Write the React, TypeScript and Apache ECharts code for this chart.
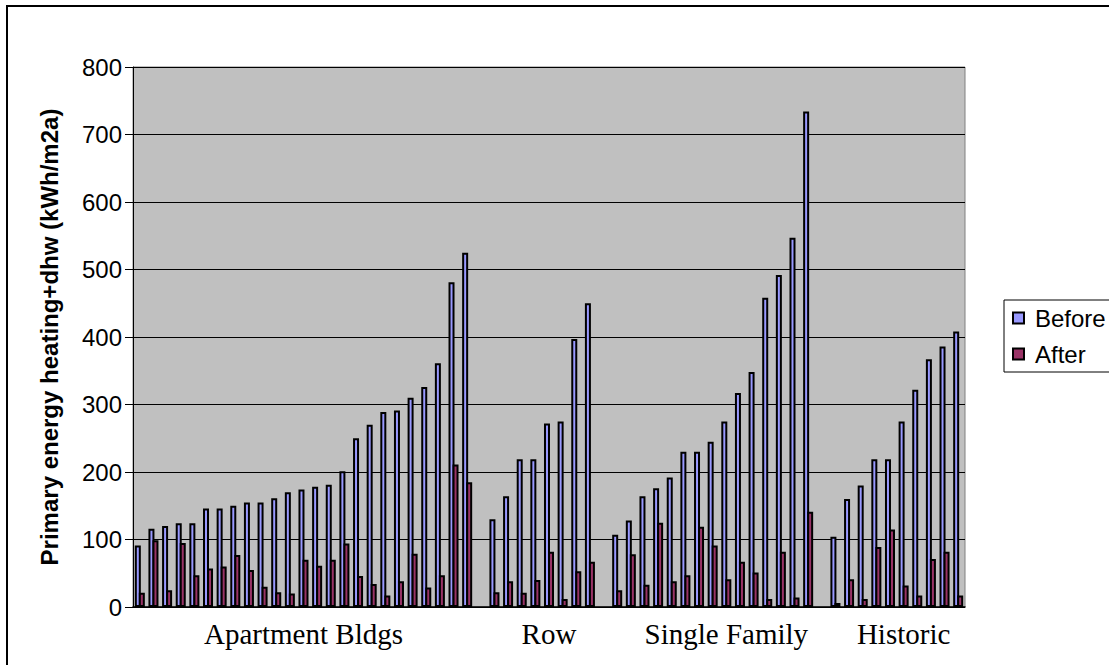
import React, { useEffect, useRef } from "react";
import * as echarts from "echarts";

// Building groups (category labels) and their values (kWh/m2a)
const groupNames = ["Apartment Bldgs", "Row", "Single Family", "Historic"];

const apartmentBefore = [91, 116, 120, 124, 124, 146, 146, 150, 155, 155, 161, 170, 174, 178, 181, 201, 250, 270, 289, 291, 310, 326, 361, 481, 525];
const apartmentAfter = [21, 99, 25, 95, 47, 57, 60, 77, 55, 30, 22, 20, 70, 61, 70, 94, 46, 34, 17, 38, 79, 29, 47, 211, 185];

const rowBefore = [130, 164, 219, 219, 272, 275, 397, 450];
const rowAfter = [22, 38, 21, 40, 82, 12, 53, 67];

const singleFamilyBefore = [107, 128, 164, 176, 192, 230, 230, 245, 275, 317, 348, 458, 492, 547, 734];
const singleFamilyAfter = [25, 78, 33, 125, 38, 47, 119, 91, 41, 67, 51, 12, 82, 14, 141];

const historicBefore = [104, 160, 180, 219, 219, 275, 322, 367, 386, 408];
const historicAfter = [6, 41, 12, 89, 115, 32, 17, 71, 82, 17];

const yTicks = [0, 100, 200, 300, 400, 500, 600, 700, 800];

// Group label category index (position of the group caption under the axis)
const groupLabelIndex = [12, 30, 43, 56];

export default function App() {
  const ref = useRef<HTMLDivElement>(null);

  useEffect(() => {
    if (!ref.current) return;
    const chart = echarts.init(ref.current, null, { renderer: "svg" });

    const groupsBefore = [apartmentBefore, rowBefore, singleFamilyBefore, historicBefore];
    const groupsAfter = [apartmentAfter, rowAfter, singleFamilyAfter, historicAfter];
    const categories: string[] = [];
    const before: (number | null)[] = [];
    const after: (number | null)[] = [];
    groupsBefore.forEach((g, gi) => {
      if (gi > 0) {
        categories.push("gap" + gi);
        before.push(null);
        after.push(null);
      }
      g.forEach((v, i) => {
        categories.push(groupNames[gi] + " " + (i + 1));
        before.push(v);
        after.push(groupsAfter[gi][i]);
      });
    });
    const labelMap: Record<number, string> = {};
    groupLabelIndex.forEach((idx, gi) => (labelMap[idx] = groupNames[gi]));

    const sans = "Liberation Sans, Arial, sans-serif";

    chart.setOption({
      animation: false,
      backgroundColor: "#ffffff",
      graphic: [
        {
          type: "rect",
          z: -10,
          shape: { x: 7, y: 6, width: 1200, height: 800 },
          style: { fill: "none", stroke: "#000", lineWidth: 2 },
        },
      ],
      grid: {
        left: 133,
        top: 67,
        width: 832,
        height: 540,
        show: true,
        backgroundColor: "#C0C0C0",
        borderColor: "#808080",
        borderWidth: 1,
      },
      legend: {
        orient: "vertical",
        left: 1004,
        top: 300,
        data: ["Before", "After"],
        icon: "rect",
        itemWidth: 11,
        itemHeight: 11,
        itemGap: 12,
        padding: [6, 30, 6, 8],
        borderColor: "#000",
        borderWidth: 1,
        backgroundColor: "#fff",
        textStyle: { fontFamily: sans, fontSize: 24, color: "#000", padding: [0, 0, 0, 6] },
      },
      xAxis: {
        type: "category",
        data: categories,
        axisTick: { show: false },
        axisLine: { lineStyle: { color: "#000", width: 1.5 } },
        axisLabel: {
          interval: 0,
          formatter: (_v: string, i: number) => labelMap[i] || "",
          fontFamily: "Liberation Serif, Times New Roman, serif",
          fontSize: 29,
          color: "#000",
          margin: 12,
        },
        splitLine: { show: false },
      },
      yAxis: {
        type: "value",
        min: yTicks[0],
        max: yTicks[yTicks.length - 1],
        interval: 100,
        name: "Primary energy heating+dhw (kWh/m2a)",
        nameLocation: "middle",
        nameGap: 72,
        nameTextStyle: { fontFamily: sans, fontWeight: "bold", fontSize: 24, color: "#000" },
        axisLine: { show: true, lineStyle: { color: "#000", width: 1 } },
        axisTick: { show: true, length: 8, lineStyle: { color: "#000" } },
        axisLabel: { fontFamily: sans, fontSize: 24, color: "#000", margin: 11 },
        splitLine: { lineStyle: { color: "#000", width: 1 } },
      },
      series: [
        {
          name: "Before",
          type: "bar",
          data: before,
          barWidth: 6,
          barGap: "-33%",
          itemStyle: { color: "#9999FF", borderColor: "#000", borderWidth: 2 },
        },
        {
          name: "After",
          type: "bar",
          data: after,
          barWidth: 6,
          itemStyle: { color: "#993366", borderColor: "#000", borderWidth: 2 },
        },
      ],
    });

    return () => chart.dispose();
  }, []);

  return (
    <div
      ref={ref}
      style={{ position: "fixed", left: 0, top: 0, width: 1109, height: 665 }}
    />
  );
}
